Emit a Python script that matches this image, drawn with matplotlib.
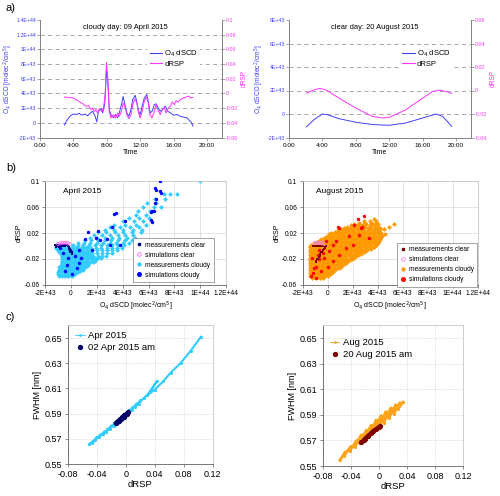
import matplotlib
matplotlib.use('Agg')
import matplotlib.pyplot as plt
from matplotlib.lines import Line2D

plt.rcParams['font.family'] = ['Liberation Sans', 'DejaVu Sans']
plt.rcParams['axes.linewidth'] = 0.6

W, H = 500, 496
fig = plt.figure(figsize=(W / 100, H / 100), dpi=100)


def px_axes(l, t, r, b):
    return fig.add_axes([l / W, 1 - b / H, (r - l) / W, (b - t) / H])


BLUE_LINE = '#4040ff'
MAGENTA = '#ff33ff'
CYAN = '#33ccff'
NAVY = '#000080'
SIMBLUE = '#0000ff'
PINK = '#ff66ff'
ORANGE = '#ff9900'
DARKRED = '#800000'
RED = '#ff0000'
VIOLET = '#ee82ee'

# ---------------- panel a data ----------------
apr_o4_time = [2.92, 3.2, 3.6, 4.0, 4.4, 4.7, 5.0, 5.4, 5.7, 6.0, 6.3, 6.6, 6.8, 7.0, 7.3, 7.5,
               7.76, 7.96, 8.12, 8.3, 8.5, 8.8, 9.04, 9.3, 9.5, 9.76, 9.96, 10.16, 10.4, 10.64,
               10.9, 11.1, 11.4, 11.6, 11.8, 12.0, 12.24, 12.5, 12.8, 13.0, 13.2, 13.44, 13.7,
               13.9, 14.16, 14.4, 14.7, 15.0, 15.3, 15.6, 16.0, 16.4, 16.8, 17.2, 17.6, 17.9,
               18.16, 18.32]
apr_o4 = [-0.32, 0.32, 0.9, 1.2, 1.13, 1.3, 1.04, 1.2, 0.95, 1.3, 1.58, 0.9, 0.14, 1.58, 1.9, 1.36,
          2.5, 7.0, 5.65, 1.8, 1.13, 0.68, 1.13, 0.68, 1.36, 2.5, 3.6, 2.58, 1.36, 0.9,
          1.8, 3.16, 3.75, 2.85, 1.58, 1.13, 2.26, 3.4, 3.84, 2.7, 1.36, 1.58, 2.5,
          2.58, 2.03, 1.58, 1.8, 2.26, 1.58, 1.36, 1.04, 1.13, 0.9, 0.77, 0.68, 0.32,
          0.0, -0.45]
apr_rsp_time = [2.92, 3.4, 4.0, 4.4, 4.8, 5.2, 5.5, 5.8, 6.1, 6.3, 6.5, 6.7, 6.9, 7.1, 7.4, 7.6,
                7.8, 7.96, 8.1, 8.3, 8.5, 8.8, 9.04, 9.3, 9.5, 9.76, 9.96, 10.16, 10.4, 10.64,
                10.9, 11.1, 11.36, 11.6, 11.8, 12.0, 12.24, 12.5, 12.76, 12.96, 13.16, 13.4,
                13.64, 13.9, 14.1, 14.4, 14.64, 14.9, 15.1, 15.36, 15.6, 15.84, 16.1, 16.3,
                16.56, 16.8, 17.1, 17.4, 17.8, 18.0, 18.3]
apr_rsp = [-0.005, -0.0054, -0.0063, -0.009, -0.0118, -0.0145, -0.0176, -0.0163, -0.022, -0.02,
           -0.0244, -0.022, -0.0267, -0.0208, -0.0244, -0.02, -0.0018, 0.042, 0.0253, -0.0244,
           -0.0334, -0.029, -0.0334, -0.0267, -0.0312, -0.0244, -0.0131, -0.0176, -0.029,
           -0.0343, -0.029, -0.0154, -0.0072, -0.0131, -0.0267, -0.0334, -0.0244, -0.01,
           -0.005, -0.0131, -0.029, -0.0334, -0.0267, -0.0154, -0.022, -0.029, -0.022, -0.019,
           -0.0267, -0.02, -0.0176, -0.0118, -0.0154, -0.01, -0.0118, -0.0086, -0.0063,
           -0.0054, -0.0036, -0.0063, -0.0054]

aug_o4_time = [2.08, 3.0, 4.0, 4.6, 6.0, 8.0, 10.0, 12.0, 14.0, 16.0, 17.6, 18.4, 19.5]
aug_o4 = [-1.1, -0.48, 0.0, -0.06, -0.4, -0.7, -0.9, -0.96, -0.76, -0.34, 0.0, -0.2, -1.05]
aug_rsp_time = [2.08, 3.0, 3.7, 4.4, 6.0, 8.0, 10.0, 11.2, 12.0, 14.0, 16.0, 17.2, 18.0, 18.8, 19.5]
aug_rsp = [-0.0023, 0.0006, 0.0017, 0.0006, -0.0065, -0.015, -0.022, -0.0234, -0.0229, -0.0164,
           -0.0065, -0.0008, 0.0003, -0.0008, -0.0025]

time_ticks = [0, 4, 8, 12, 16, 20]
time_labels = ['0:00', '4:00', '8:00', '12:00', '16:00', '20:00']

apr_left_ticks = [-2, 0, 2, 4, 6, 8, 10, 12, 14]
apr_left_labels = ['-2E+43', '0', '2E+43', '4E+43', '6E+43', '8E+43', '1E+44', '1.2E+44', '1.4E+44']
apr_right_ticks = [-0.06, -0.04, -0.02, 0, 0.02, 0.04, 0.06, 0.08, 0.1]
apr_right_labels = ['-0.06', '-0.04', '-0.02', '0', '0.02', '0.04', '0.06', '0.08', '0.1']
aug_left_ticks = [-2, 0, 2, 4, 6, 8]
aug_left_labels = ['-2E+43', '0', '2E+43', '4E+43', '6E+43', '8E+43']
aug_right_ticks = [-0.04, -0.02, 0, 0.02, 0.04, 0.06]
aug_right_labels = ['-0.04', '-0.02', '0', '0.02', '0.04', '0.06']

# ---------------- panel b data (x in units of 1E43) ----------------
apr_cloudy_rows = [
    (-0.047, [-0.95, -0.7, -0.45, -0.2, 0.05]),
    (-0.045, [-0.85, -0.58, -0.32, -0.08, 0.15]),
    (-0.043, [-1.0, -0.75, -0.5, -0.25, 0.0, 0.3]),
    (-0.041, [-0.98, -0.78, -0.5, -0.25, 0.02, 0.28, 0.55]),
    (-0.039, [-0.9, -0.62, -0.38, -0.1, 0.15, 0.45, 0.7]),
    (-0.037, [-0.95, -0.75, -0.48, -0.2, 0.1, 0.4, 0.7, 0.95]),
    (-0.035, [-0.85, -0.58, -0.3, -0.05, 0.25, 0.55, 0.85]),
    (-0.033, [-0.9, -0.65, -0.38, -0.1, 0.2, 0.5, 0.8, 1.1]),
    (-0.031, [-0.8, -0.5, -0.22, 0.08, 0.38, 0.68, 0.98, 1.25]),
    (-0.029, [-0.78, -0.6, -0.35, -0.05, 0.3, 0.62, 0.95, 1.28]),
    (-0.027, [-0.72, -0.42, -0.12, 0.2, 0.5, 0.8, 1.1, 1.42]),
    (-0.025, [-0.7, -0.5, -0.2, 0.1, 0.42, 0.75, 1.05, 1.35, 1.7]),
    (-0.023, [-0.68, -0.35, -0.05, 0.28, 0.6, 0.92, 1.25, 1.6, 1.88]),
    (-0.021, [-0.68, -0.48, -0.15, 0.2, 0.55, 0.88, 1.2, 1.55, 1.9]),
    (-0.019, [-0.65, -0.3, 0.05, 0.4, 0.72, 1.05, 1.4, 1.75, 2.05, 2.3]),
    (-0.017, [-0.7, -0.5, -0.15, 0.2, 0.5, 0.85, 1.2, 1.55]),
    (-0.015, [-0.7, -0.38, -0.02, 0.3, 0.65, 1.0, 1.35, 1.7, 2.05, 2.4, 2.68]),
    (-0.013, [-0.75, -0.55, -0.2, 0.12, 0.45, 0.8, 1.15, 1.5]),
    (-0.011, [-0.78, -0.45, -0.1, 0.25, 0.58, 0.95, 1.3, 1.65, 2.0, 2.4, 2.8, 3.15]),
    (-0.009, [-0.9, -0.6, -0.3, 0.05, 0.4, 0.75, 1.1, 1.45]),
    (-0.007, [-0.98, -0.62, -0.25, 0.12, 0.5, 0.88, 1.25, 1.6, 2.0, 2.4, 2.8, 3.2, 3.55]),
    (-0.005, [-1.1, -0.8, -0.45, -0.1, 0.25, 0.6, 0.95, 1.3]),
    (-0.003, [-1.15, -0.8, -0.4, 0.0, 0.38, 0.75, 1.15, 1.55, 1.95, 2.35, 2.75, 3.15, 3.55, 3.95]),
    (-0.001, [-1.2, -0.95, -0.6, -0.2, 0.15, 0.5, 0.9, 1.25]),
    (0.001, [0.15, 0.55, 0.95, 1.4, 1.85, 2.3, 2.75, 3.2, 3.65, 4.1]),
    (0.005, [0.55, 1.0, 1.5, 2.0, 2.5, 3.0, 3.5, 4.0, 4.5]),
    (0.009, [1.05, 1.55, 2.1, 2.6, 3.1, 3.6, 4.15, 4.7]),
    (0.013, [1.5, 2.0, 2.6, 3.2, 3.75, 4.35, 4.95]),
    (0.017, [1.8, 2.4, 3.0, 3.6, 4.2, 4.8]),
    (0.021, [2.1, 2.7, 3.4, 4.0, 4.7, 5.4]),
    (0.025, [2.6, 3.3, 4.0, 4.8, 5.5]),
    (0.029, [3.0, 3.8, 4.6, 5.3]),
    (0.033, [3.3, 4.2, 5.0, 5.8]),
    (0.038, [4.0, 4.9, 5.6]),
    (0.043, [4.5, 5.3, 6.0]),
    (0.048, [5.0, 5.8]),
    (0.054, [5.2, 6.1]),
    (0.060, [5.6, 6.4, 7.0]),
    (0.066, [5.9, 6.6]),
    (0.072, [6.5, 7.3]),
    (0.080, [7.2, 7.7, 8.2]),
    (0.100, [10.0]),
]
apr_sim_cloudy_x = [6.9, 6.5, 6.55, 6.9, 7.0, 6.6, 6.5, 6.3, 6.2, 6.45, 6.2, 6.3, 3.3, 3.5, 4.2,
                    3.2, 2.1, 1.9, 1.1, 2.8, 3.0, 3.8, 0.6, 1.6, 0.3, 0.8, -0.2, -0.3, 0.45,
                    -0.6, -0.84, -0.06, 0.06, 0.6, -0.45, 1.34, 2.25]
apr_sim_cloudy_y = [0.1, 0.09, 0.087, 0.085, 0.082, 0.072, 0.066, 0.054, 0.052, 0.054, 0.04, 0.037,
                    0.05, 0.051, 0.039, 0.029, 0.023, 0.012, 0.01, 0.01, 0.002, 0.002, -0.006,
                    -0.006, -0.016, -0.019, -0.019, -0.029, -0.034, -0.011, -0.003, -0.006,
                    -0.044, -0.026, -0.039, 0.022, 0.009]
apr_meas_clear_x = [-1.25, -1.18, -1.1, -1.02, -0.95, -0.88, -0.8, -0.72, -0.65, -0.58, -0.5,
                    -0.42, -0.35, -0.28, -1.2, -1.05, -0.9, -0.75, -0.6, -0.45, -0.22, -0.16,
                    -0.1, -0.05, 0.0, 0.05, 0.1, -0.15, -0.05]
apr_meas_clear_y = [0.001, 0.0015, 0.001, 0.002, 0.001, 0.0015, 0.002, 0.001, 0.0015, 0.002,
                    0.0015, 0.002, 0.0015, 0.001, -0.001, -0.0005, -0.001, -0.0005, -0.0005,
                    0.0, 0.0, -0.002, -0.004, -0.006, -0.008, -0.010, -0.012, -0.004, -0.009]
apr_sim_clear_x = [-1.0, -0.85, -0.7, -0.55, -0.4, -0.25, -0.1]
apr_sim_clear_y = [0.003, 0.004, 0.005, 0.005, 0.005, 0.004, 0.003]

aug_cloudy_rows = [
    (-0.050, [-1.25, -0.95, -0.65, -0.35]),
    (-0.048, [-1.1, -0.8, -0.5]),
    (-0.046, [-1.38, -1.1, -0.8, -0.5, -0.2, 0.0]),
    (-0.044, [-1.25, -0.95, -0.65, -0.35, -0.05, 0.18]),
    (-0.042, [-1.42, -1.12, -0.82, -0.52, -0.22, 0.08, 0.3]),
    (-0.040, [-1.28, -0.98, -0.68, -0.38, -0.08, 0.22, 0.45]),
    (-0.038, [-1.4, -1.08, -0.76, -0.44, -0.12, 0.2, 0.52]),
    (-0.036, [-1.25, -0.92, -0.6, -0.28, 0.04, 0.36, 0.7]),
    (-0.034, [-1.45, -1.15, -0.85, -0.55, -0.25, 0.05, 0.35, 0.65, 0.88]),
    (-0.032, [-1.3, -1.0, -0.7, -0.4, -0.1, 0.2, 0.5, 0.8, 1.05]),
    (-0.030, [-1.4, -1.1, -0.78, -0.46, -0.14, 0.18, 0.5, 0.82, 1.15]),
    (-0.028, [-1.25, -0.95, -0.62, -0.3, 0.02, 0.34, 0.66, 0.98, 1.3]),
    (-0.026, [-1.45, -1.12, -0.8, -0.48, -0.16, 0.16, 0.48, 0.8, 1.12, 1.45]),
    (-0.024, [-1.3, -0.95, -0.62, -0.3, 0.0, 0.32, 0.65, 1.0, 1.35, 1.65]),
    (-0.022, [-1.42, -1.08, -0.75, -0.42, -0.08, 0.25, 0.58, 0.92, 1.25, 1.58, 1.8]),
    (-0.020, [-1.25, -0.9, -0.55, -0.2, 0.15, 0.5, 0.85, 1.2, 1.55, 1.95]),
    (-0.018, [-1.4, -1.05, -0.7, -0.35, 0.0, 0.35, 0.7, 1.05, 1.4, 1.75, 2.1]),
    (-0.016, [-1.3, -0.95, -0.6, -0.25, 0.1, 0.45, 0.8, 1.15, 1.5, 1.85, 2.25]),
    (-0.014, [-1.45, -1.1, -0.75, -0.4, -0.05, 0.3, 0.65, 1.0, 1.35, 1.7, 2.05, 2.45]),
    (-0.012, [-1.25, -0.9, -0.55, -0.2, 0.15, 0.5, 0.85, 1.2, 1.55, 1.9, 2.3, 2.7]),
    (-0.010, [-1.42, -1.06, -0.7, -0.34, 0.02, 0.38, 0.74, 1.1, 1.46, 1.82, 2.18, 2.54, 2.88]),
    (-0.008, [-1.25, -0.88, -0.5, -0.15, 0.2, 0.6, 1.0, 1.4, 1.8, 2.2, 2.6, 3.0]),
    (-0.006, [-1.4, -1.02, -0.64, -0.26, 0.12, 0.5, 0.88, 1.26, 1.64, 2.02, 2.4, 2.78, 3.16]),
    (-0.004, [-1.25, -0.85, -0.45, -0.05, 0.35, 0.75, 1.15, 1.55, 1.95, 2.35, 2.75, 3.15, 3.5]),
    (-0.002, [-1.45, -1.05, -0.65, -0.25, 0.15, 0.55, 0.95, 1.35, 1.75, 2.15, 2.55, 2.95, 3.35, 3.68]),
    (0.000, [-1.4, -1.1, -0.7, -0.3, 0.1, 0.5, 0.9, 1.3, 1.7, 2.1, 2.5, 2.9, 3.3, 3.75]),
    (0.002, [-1.3, -0.9, -0.5, -0.1, 0.3, 0.7, 1.1, 1.5, 1.9, 2.3, 2.7, 3.1, 3.5, 3.9]),
    (0.004, [-1.1, -0.7, -0.3, 0.1, 0.5, 0.9, 1.3, 1.7, 2.1, 2.5, 2.9, 3.3, 3.7, 4.05]),
    (0.006, [-0.85, -0.45, -0.05, 0.35, 0.75, 1.15, 1.55, 1.95, 2.35, 2.75, 3.15, 3.55, 3.95]),
    (0.008, [-0.7, -0.3, 0.1, 0.5, 0.9, 1.3, 1.7, 2.1, 2.5, 2.9, 3.3, 3.7, 4.1]),
    (0.010, [-0.5, -0.1, 0.3, 0.7, 1.1, 1.5, 1.9, 2.3, 2.7, 3.1, 3.5, 3.9, 4.2]),
    (0.012, [-0.3, 0.1, 0.5, 0.9, 1.3, 1.7, 2.1, 2.5, 2.9, 3.3, 3.7, 4.1]),
    (0.014, [-0.1, 0.3, 0.7, 1.1, 1.5, 1.9, 2.3, 2.7, 3.1, 3.5, 3.9, 4.3]),
    (0.016, [0.0, 0.4, 0.8, 1.2, 1.6, 2.0, 2.4, 2.8, 3.2, 3.6, 4.0, 4.35]),
    (0.018, [0.1, 0.5, 0.9, 1.3, 1.7, 2.1, 2.5, 2.9, 3.3, 3.7, 4.1, 4.6]),
    (0.020, [0.3, 0.75, 1.15, 1.55, 1.95, 2.35, 2.75, 3.15, 3.55, 3.95, 4.3]),
    (0.022, [0.55, 0.95, 1.35, 1.75, 2.15, 2.55, 2.95, 3.35, 3.75, 4.15]),
    (0.024, [0.8, 1.25, 1.65, 2.05, 2.45, 2.85, 3.25, 3.65, 4.05]),
    (0.026, [1.05, 1.5, 1.95, 2.4, 2.85, 3.3, 3.75, 4.2, 4.5]),
    (0.028, [1.3, 1.75, 2.25, 2.75, 3.25, 3.75, 4.15]),
    (0.030, [1.55, 2.0, 2.5, 3.0, 3.5, 4.0, 4.9]),
    (0.032, [1.85, 2.35, 2.85, 3.35, 3.8]),
    (0.034, [2.1, 2.6, 3.1, 3.6, 4.0, 5.3]),
    (0.036, [2.5, 3.0, 3.5, 3.9]),
    (0.038, [2.9, 3.4, 3.85]),
    (0.041, [3.7]),
]
aug_sim_cloudy_x = [-1.33, -1.2, -1.07, -0.93, -1.25, -0.8, -0.67, -0.4, -0.27, 0.13, 0.4, 0.67,
                    0.0, -0.53, -0.93, 0.4, 0.93, 1.47, 2.0, 2.53, 1.73, 2.13, 2.4, 2.93, 2.67,
                    0.93, 3.33, -0.13, -0.67, 0.85, 2.72]
aug_sim_cloudy_y = [-0.047, -0.042, -0.034, -0.032, -0.019, -0.0135, -0.006, -0.011, -0.019,
                    -0.008, 0.002, 0.007, -0.032, -0.039, -0.05, -0.024, -0.0135, -0.003, 0.002,
                    0.017, 0.015, 0.033, 0.041, 0.046, 0.028, 0.028, 0.012, 0.007, -0.021,
                    0.030, 0.030]
aug_meas_clear_x = [-1.2, -1.1, -1.0, -0.9, -0.8, -0.7, -0.6, -0.5, -0.4, -0.3, -0.2, -0.13,
                    -0.2, -0.3, -0.4, -0.5, -0.6, -0.7, -0.8, -0.9, -0.95, -0.25, -0.45, -0.65,
                    -0.85]
aug_meas_clear_y = [0.0, 0.0005, 0.0, 0.0005, 0.0, 0.0005, 0.0, 0.0005, 0.0, 0.0005, 0.0, 0.0,
                    -0.001, -0.004, -0.007, -0.010, -0.013, -0.017, -0.020, -0.023, -0.025,
                    -0.003, -0.009, -0.015, -0.021]
aug_sim_clear_x = [-1.05, -0.9, -0.75, -0.6, -0.45, -0.3]
aug_sim_clear_y = [0.004, 0.005, 0.005, 0.005, 0.004, 0.003]

b_xticks = [-2, 0, 2, 4, 6, 8, 10, 12]
b_xlabels = ['-2E+43', '0', '2E+43', '4E+43', '6E+43', '8E+43', '1E+44', '1.2E+44']
b_yticks = [-0.06, -0.02, 0.02, 0.06, 0.1]
b_ylabels = ['-0.06', '-0.02', '0.02', '0.06', '0.1']

# ---------------- panel c data ----------------
apr_c_x = [-0.051, -0.045, -0.047, -0.040, -0.042, -0.035, -0.037, -0.030, -0.032, -0.025, -0.027,
           -0.020, -0.022, -0.015, -0.017, -0.010, -0.012, -0.005, -0.007, 0.000, -0.002, 0.005,
           0.003, 0.010, 0.008, 0.015, 0.013, 0.020, 0.018, 0.025, 0.030, 0.035, 0.043, 0.030,
           0.040, 0.052, 0.062, 0.0758, 0.090, 0.104]
apr_c_y = [0.5655, 0.5685, 0.5665, 0.5715, 0.569, 0.5735, 0.5712, 0.5757, 0.5735, 0.578, 0.5757,
           0.5805, 0.578, 0.583, 0.5805, 0.5855, 0.583, 0.588, 0.5855, 0.5905, 0.588, 0.593,
           0.5905, 0.5955, 0.593, 0.598, 0.5955, 0.6005, 0.598, 0.6025, 0.605, 0.6085, 0.6157,
           0.6045, 0.609, 0.6157, 0.6225, 0.630, 0.640, 0.651]
apr_am_x = [-0.0135, -0.011, -0.012, -0.008, -0.009, -0.005, -0.006, -0.002, -0.003, 0.001, 0.0037]
apr_am_y = [0.5825, 0.584, 0.5832, 0.5855, 0.5845, 0.587, 0.586, 0.5885, 0.5875, 0.590, 0.5912]

aug_c_x = [-0.056, -0.048, -0.050, -0.040, -0.042, -0.032, -0.035, -0.025, -0.028, -0.018, -0.021,
           -0.011, -0.014, -0.004, -0.007, 0.003, 0.0, 0.010, 0.007, 0.017, 0.014, 0.024, 0.021,
           0.030, 0.027, 0.0343]
aug_c_y = [0.5545, 0.561, 0.558, 0.5655, 0.5615, 0.570, 0.565, 0.5745, 0.568, 0.578, 0.5715,
           0.582, 0.5745, 0.586, 0.578, 0.5895, 0.5805, 0.5925, 0.584, 0.5955, 0.5875, 0.598,
           0.591, 0.5995, 0.5945, 0.600]
aug_am_x = [-0.0251, -0.022, -0.020, -0.016, -0.012, -0.008, -0.004, 0.0, 0.0014]
aug_am_y = [0.5685, 0.570, 0.5715, 0.5735, 0.5755, 0.5775, 0.579, 0.5805, 0.581]

c_xticks = [-0.08, -0.04, 0, 0.04, 0.08, 0.12]
c_xlabels = ['-0.08', '-0.04', '0', '0.04', '0.08', '0.12']
c_yticks = [0.55, 0.57, 0.59, 0.61, 0.63, 0.65]
c_ylabels = ['0.55', '0.57', '0.59', '0.61', '0.63', '0.65']


# ---------------- panel a ----------------
def panel_a(rect, t1, v1, t2, v2, lticks, llabels, rticks, rlabels, title, leg_anchor):
    ax = px_axes(*rect)
    ax2 = ax.twinx()
    ax.plot(t1, v1, color=BLUE_LINE, lw=0.7)
    ax2.plot(t2, v2, color=MAGENTA, lw=0.7)
    ax.set_xlim(0, 21.8)
    ax.set_ylim(lticks[0], lticks[-1])
    ax2.set_ylim(rticks[0], rticks[-1])
    ax.set_yticks(lticks)
    ax.set_yticklabels(llabels)
    ax2.set_yticks(rticks)
    ax2.set_yticklabels(rlabels)
    ax.set_xticks(time_ticks)
    ax.set_xticklabels(time_labels)
    for v in lticks[1:-1]:
        ax.axhline(v, color='#9a9a9a', lw=0.6, ls=(0, (5, 4)), zorder=0)
    for a in (ax, ax2):
        a.spines['top'].set_visible(False)
        for s in ('left', 'right', 'bottom'):
            a.spines[s].set_color('#808080')
    ax.tick_params(axis='y', labelsize=3.8, colors='#808080', labelcolor=BLUE_LINE,
                   length=2, width=0.5, pad=1)
    ax2.tick_params(axis='y', labelsize=3.8, colors='#808080', labelcolor=MAGENTA,
                    length=2, width=0.5, pad=1)
    ax.tick_params(axis='x', labelsize=4.6, length=2, width=0.5, pad=2, colors='#808080',
                   labelcolor='black')
    ax.set_xlabel('Time', fontsize=5, labelpad=1)
    ax.set_ylabel('O$_4$ dSCD [molec$^2$/cm$^5$]', fontsize=4.8, color=BLUE_LINE, labelpad=1)
    ax2.set_ylabel('dRSP', fontsize=4.8, color=MAGENTA, labelpad=2)
    ax.text(0.47, 0.935, title, transform=ax.transAxes, ha='center', va='center', fontsize=5.4)
    h1 = Line2D([], [], color=BLUE_LINE, lw=0.8)
    h2 = Line2D([], [], color=MAGENTA, lw=0.8)
    ax2.legend([h1, h2], ['O$_4$ dSCD', 'dRSP'], loc='upper left', bbox_to_anchor=leg_anchor,
               fontsize=5.5, frameon=True, facecolor='white', edgecolor='none', framealpha=1,
               handlelength=1.6, handletextpad=0.3, labelspacing=0.2, borderpad=0.3,
               borderaxespad=0, fancybox=False)
    return ax


panel_a((40, 20, 222, 137.5), apr_o4_time, apr_o4, apr_rsp_time, apr_rsp,
        apr_left_ticks, apr_left_labels, apr_right_ticks, apr_right_labels,
        'cloudy day: 09 April 2015', (0.59, 0.775))
panel_a((289, 20, 471, 137.5), aug_o4_time, aug_o4, aug_rsp_time, aug_rsp,
        aug_left_ticks, aug_left_labels, aug_right_ticks, aug_right_labels,
        'clear day: 20 August 2015', (0.61, 0.775))


# ---------------- panel b ----------------
def style_box(ax, lc='#606060', fc='#c8c8c8'):
    for s in ('left', 'bottom'):
        ax.spines[s].set_color(lc)
        ax.spines[s].set_linewidth(0.6)
    for s in ('top', 'right'):
        ax.spines[s].set_color(fc)
        ax.spines[s].set_linewidth(0.6)


def panel_b(rect, rows, simc_x, simc_y, mc_x, mc_y, sc_x, sc_y,
            c_meas_clear, c_sim_clear, c_meas_cld, c_sim_cld, label, label_x, leg_anchor):
    ax = px_axes(*rect)
    cx = [x for y, xs in rows for x in xs]
    cy = [y for y, xs in rows for x in xs]
    ax.scatter(cx, cy, s=6, marker='D', color=c_meas_cld, linewidths=0, zorder=2)
    ax.scatter(simc_x, simc_y, s=6, marker='o', color=c_sim_cld, linewidths=0, zorder=3)
    ax.scatter(mc_x, mc_y, s=4, marker='s', color=c_meas_clear, linewidths=0, zorder=4)
    ax.scatter(sc_x, sc_y, s=5, marker='o', facecolors='none', edgecolors=c_sim_clear,
               linewidths=0.5, zorder=5)
    ax.set_xlim(-2, 12)
    ax.set_ylim(-0.06, 0.1)
    ax.set_xticks(b_xticks)
    ax.set_xticklabels(b_xlabels)
    ax.set_yticks(b_yticks)
    ax.set_yticklabels(b_ylabels)
    ax.grid(True, color='#d9d9d9', lw=0.5, zorder=0)
    ax.set_axisbelow(True)
    style_box(ax)
    ax.tick_params(labelsize=4.8, length=2, width=0.5, pad=2, colors='#606060',
                   labelcolor='black')
    ax.set_ylabel('dRSP', fontsize=5, labelpad=1)
    ax.set_xlabel('O$_4$ dSCD [molec$^2$/cm$^5$]', fontsize=5, labelpad=2)
    ax.text(label_x, 0.905, label, transform=ax.transAxes, fontsize=6, va='center')
    handles = [
        Line2D([], [], marker='s', ls='none', color=c_meas_clear, ms=1.8),
        Line2D([], [], marker='o', ls='none', mfc='none', mec=c_sim_clear, ms=2.6, mew=0.6),
        Line2D([], [], marker='D', ls='none', color=c_meas_cld, ms=1.8),
        Line2D([], [], marker='o', ls='none', color=c_sim_cld, ms=2.6),
    ]
    labels = ['measurements clear', 'simulations clear', 'measurements cloudy', 'simulations cloudy']
    leg = ax.legend(handles, labels, loc='upper left', bbox_to_anchor=leg_anchor, fontsize=4.8,
                    frameon=True, fancybox=False, edgecolor='#808080', facecolor='white',
                    framealpha=1, handlelength=0.8, handletextpad=0.4, labelspacing=0.45,
                    borderpad=0.55, borderaxespad=0)
    leg.get_frame().set_linewidth(0.5)
    leg.set_zorder(10)
    return ax


panel_b((45.2, 181.3, 226, 284.7), apr_cloudy_rows, apr_sim_cloudy_x, apr_sim_cloudy_y,
        apr_meas_clear_x, apr_meas_clear_y, apr_sim_clear_x, apr_sim_clear_y,
        NAVY, PINK, CYAN, SIMBLUE, 'April 2015', 0.1, (0.486, 0.452))
panel_b((302.7, 181.3, 477.7, 284.7), aug_cloudy_rows, aug_sim_cloudy_x, aug_sim_cloudy_y,
        aug_meas_clear_x, aug_meas_clear_y, aug_sim_clear_x, aug_sim_clear_y,
        DARKRED, VIOLET, ORANGE, RED, 'August 2015', 0.076, (0.539, 0.406))


# ---------------- panel c ----------------
def panel_c(rect, x1, y1, x2, y2, col1, col2, lab1, lab2, leg_anchor, lw1):
    ax = px_axes(*rect)
    ax.plot(x1, y1, color=col1, lw=lw1, marker='.', ms=2.5, zorder=2)
    ax.plot(x2, y2, color=col2, lw=2.8, marker='o', ms=2.8, zorder=3)
    ax.set_xlim(-0.08, 0.12)
    ax.set_ylim(0.55, 0.66)
    ax.set_xticks(c_xticks)
    ax.set_xticklabels(c_xlabels)
    ax.set_yticks(c_yticks)
    ax.set_yticklabels(c_ylabels)
    ax.grid(True, color='#c8c8c8', lw=0.5, ls=(0, (1, 1.5)), zorder=0)
    ax.set_axisbelow(True)
    style_box(ax)
    ax.tick_params(labelsize=6.5, length=2, width=0.5, pad=2, colors='#606060',
                   labelcolor='black')
    ax.set_xlabel('dRSP', fontsize=6.8, labelpad=1)
    ax.set_ylabel('FWHM [nm]', fontsize=6.5, labelpad=2)
    handles = [Line2D([], [], color=col1, lw=0.6, marker='.', ms=2),
               Line2D([], [], color=col2, lw=0, marker='o', ms=2.8)]
    ax.legend(handles, [lab1, lab2], loc='upper left', bbox_to_anchor=leg_anchor, fontsize=6.8,
              frameon=False, handlelength=1.0, handletextpad=0.4, labelspacing=0.35,
              borderaxespad=0, borderpad=0)
    return ax


panel_c((68, 325.4, 212.5, 464), apr_c_x, apr_c_y, apr_am_x, apr_am_y, CYAN, '#000066',
        'Apr 2015', '02 Apr 2015 am', (0.05, 0.96), 1.5)
panel_c((323, 325.4, 463, 466), aug_c_x, aug_c_y, aug_am_x, aug_am_y, '#ffa31a', '#800000',
        'Aug 2015', '20 Aug 2015 am', (0.05, 0.91), 2.0)

fig.text(5 / W, 1 - 8 / H, 'a)', fontsize=8, va='center', ha='left')
fig.text(6 / W, 1 - 168 / H, 'b)', fontsize=8, va='center', ha='left')
fig.text(6 / W, 1 - 317 / H, 'c)', fontsize=8, va='center', ha='left')

fig.savefig('out.png', dpi=100)
